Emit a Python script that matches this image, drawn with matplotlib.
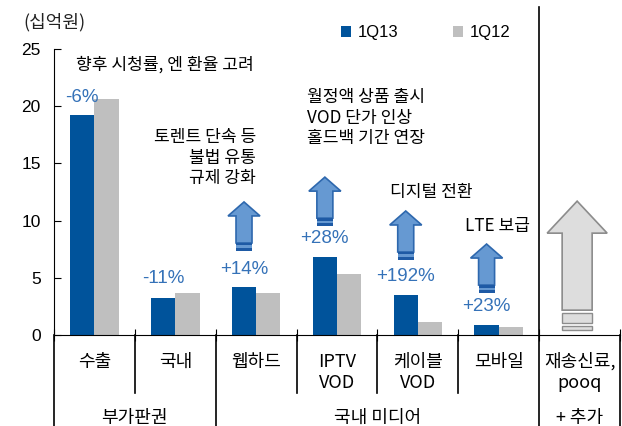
import matplotlib
matplotlib.use('Agg')
import matplotlib.pyplot as plt
from matplotlib.patches import Polygon, Rectangle

plt.rcParams['font.family'] = ['Noto Sans CJK KR', 'DejaVu Sans']
latin = ['Liberation Sans', 'DejaVu Sans']

# data
categories = ['수출', '국내', '웹하드', 'IPTV\nVOD', '케이블\nVOD', '모바일', '재송신료,\npooq']
q13 = [19.2, 3.25, 4.2, 6.8, 3.5, 0.88]
q12 = [20.6, 3.7, 3.7, 5.35, 1.15, 0.7]
changes = ['-6%', '-11%', '+14%', '+28%', '+192%', '+23%']
groups = ['부가판권', '국내 미디어', '+ 추가']
group_span = [(0, 2), (2, 6), (6, 7)]

blue = '#00539B'
gray = '#BFBFBF'
pct_col = '#3572B8'

fig = plt.figure(figsize=(6.22, 4.26), dpi=100)
ax = fig.add_axes([54/622, (426-335)/426, (620-54)/622, (335-49)/426])

x = [i + 0.5 for i in range(len(q13))]
bw = 0.3
ax.bar([v - bw/2 for v in x], q13, width=bw, color=blue, label='1Q13')
ax.bar([v + bw/2 for v in x], q12, width=bw, color=gray, label='1Q12')

ax.set_xlim(0, 7)
ax.set_ylim(0, 25)
ax.set_yticks([0, 5, 10, 15, 20, 25])
ax.set_xticks(range(8))
ax.set_xticklabels([])
ax.tick_params(axis='y', direction='in', length=5, pad=9.5, labelsize=12.5)
for lb in ax.get_yticklabels():
    lb.set_family(latin)
ax.tick_params(axis='x', direction='inout', length=8)
for s in ['top', 'right']:
    ax.spines[s].set_visible(False)

ax.text(-0.383, 27.3, '(십억원)', fontsize=13, ha='left', va='center', color='#222222')

# percent labels
pct_y = [20.8, 4.9, 5.7, 8.4, 5.1, 2.5]
for i, t in enumerate(changes):
    ax.text(x[i] - bw/2, pct_y[i], t, color=pct_col, fontsize=13.5, ha='center', va='center',
            family=latin)

# comments
ax.text(1.37, 23.6, '향후 시청률, 엔 환율 고려', fontsize=12.3, ha='center', va='center')
ax.text(2.5, 15.5, '토렌트 단속 등\n불법 유통\n규제 강화', fontsize=12.3, ha='right', va='center',
        linespacing=1.2)
ax.text(3.13, 19.0, '월정액 상품 출시\nVOD 단가 인상\n홀드백 기간 연장', fontsize=12.3, ha='left',
        va='center', linespacing=1.2)
ax.text(4.67, 12.5, '디지털 전환', fontsize=12.3, ha='center', va='center')
ax.text(5.49, 9.5, 'LTE 보급', fontsize=12.3, ha='center', va='center')

sx, sy = 80.86, 11.44  # px per data unit


def up_arrow(xc, top, hw, sw, head, shaft, bars, fc, ec, bar_fc):
    pts = [(xc, top), (xc + hw/sx, top - head/sy), (xc + sw/sx, top - head/sy),
           (xc + sw/sx, top - shaft/sy), (xc - sw/sx, top - shaft/sy),
           (xc - sw/sx, top - head/sy), (xc - hw/sx, top - head/sy)]
    ax.add_patch(Polygon(pts, closed=True, facecolor=fc, edgecolor=ec, lw=1.2, zorder=3))
    for b0, b1 in bars:
        ax.add_patch(Rectangle((xc - sw/sx, top - b1/sy), 2*sw/sx, (b1 - b0)/sy,
                               facecolor=bar_fc, edgecolor=ec, lw=1.0, zorder=3))


arrow_tops = {2: 11.63, 3: 13.8, 4: 10.84, 5: 7.95}
for i, tp in arrow_tops.items():
    xc = x[i] - bw/2
    up_arrow(xc, tp, 16, 8, 14, 41, [], '#6699D2', '#2E68AE', '#6699D2')
    ax.add_patch(Rectangle((xc - 8/sx, tp - 49/sy), 16/sx, 8/sy, facecolor='#6699D2',
                           edgecolor='none', zorder=3))
    ax.add_patch(Rectangle((xc - 8/sx, tp - 43.5/sy), 16/sx, 2.5/sy, facecolor='#1E5AA5',
                           edgecolor='none', zorder=3))
    ax.add_patch(Rectangle((xc - 8/sx, tp - 49/sy), 16/sx, 3/sy, facecolor='#1E5AA5',
                           edgecolor='none', zorder=3))

up_arrow(6.47, 11.7, 30, 15, 32, 109, [(112, 122), (125, 129)], '#DDDDDD', '#8C8C8C', '#DDDDDD')

# separators and labels below the axis
tr = ax.get_xaxis_transform()
for b in [1, 3, 4, 5]:
    ax.plot([b, b], [0, -0.203], color='black', lw=1.2, transform=tr, clip_on=False)
for b in [0, 2, 7]:
    ax.plot([b, b], [0, -0.318], color='black', lw=1.2, transform=tr, clip_on=False)
ax.plot([6, 6], [1.147, -0.318], color='black', lw=1.2, transform=tr, clip_on=False)

for i, c in enumerate(categories):
    for j, line in enumerate(c.split('\n')):
        ax.text(i + 0.5, -0.094 - j*0.075, line, fontsize=13, ha='center', va='center',
                transform=tr)
for g, (a, b) in zip(groups, group_span):
    ax.text((a + b)/2, -0.29, g, fontsize=13, ha='center', va='center', transform=tr)

fig.legend(loc='center', bbox_to_anchor=(426/622, 1 - 33/426), ncol=2, frameon=False,
           prop={'family': latin, 'size': 12}, handlelength=0.6, handleheight=0.6,
           handletextpad=0.4, columnspacing=3.3)

fig.savefig('out.png', dpi=100)
